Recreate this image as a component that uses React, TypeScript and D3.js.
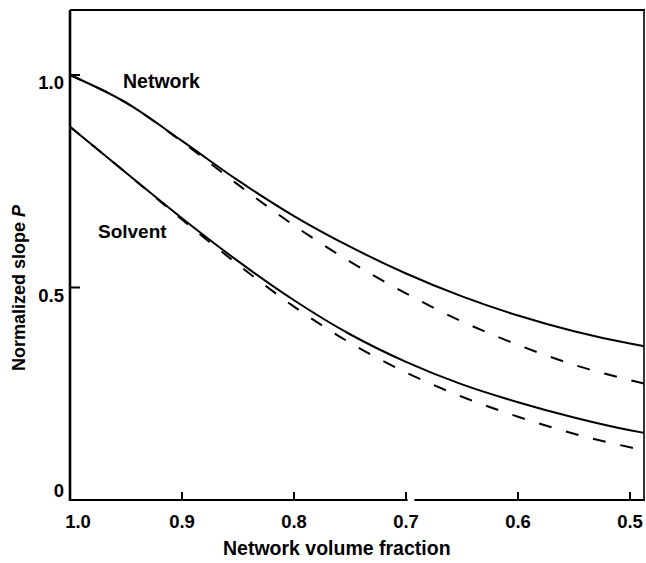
import React from "react";
import * as d3 from "d3";

// network volume fraction (x) sampled along the curves
const fractions = [1.0, 0.95, 0.9, 0.85, 0.8, 0.75, 0.7, 0.65, 0.6, 0.55, 0.5, 0.4875];

const networkSolid = [1.0, 0.935, 0.845, 0.752, 0.668, 0.596, 0.533, 0.479, 0.434, 0.397, 0.368, 0.362];
const networkDashed = [1.0, 0.935, 0.843, 0.742, 0.646, 0.561, 0.486, 0.42, 0.365, 0.318, 0.282, 0.274];
const solventSolid = [0.878, 0.77, 0.663, 0.562, 0.47, 0.39, 0.325, 0.272, 0.23, 0.194, 0.164, 0.158];
const solventDashed = [0.878, 0.77, 0.66, 0.554, 0.455, 0.37, 0.3, 0.243, 0.196, 0.156, 0.124, 0.117];

const xTicks = [1.0, 0.9, 0.8, 0.7, 0.6, 0.5];
const xTickLabels = ["1.0", "0.9", "0.8", "0.7", "0.6", "0.5"];
const yTicks = [0, 0.5, 1.0];
const yTickLabels = ["0", "0.5", "1.0"];

const W = 646;
const H = 563;
const left = 70;
const right = 644;
const top = 10;
const bottom = 500;

const font = "'Liberation Sans', Arial, sans-serif";

export default function App() {
  const x = d3.scaleLinear().domain([1.0, 0.4875]).range([left, right]);
  const y = d3.scaleLinear().domain([0, 1]).range([bottom, 75]);

  const line = (vals: number[]) =>
    d3
      .line<number>()
      .x((_, i) => x(fractions[i]))
      .y((d) => y(d))
      .curve(d3.curveMonotoneX)(vals) as string;

  const curves = [
    { vals: networkDashed, dash: "13 15" },
    { vals: solventDashed, dash: "13 15" },
    { vals: networkSolid, dash: null },
    { vals: solventSolid, dash: null },
  ];

  return (
    <svg
      width={W}
      height={H}
      style={{ position: "absolute", left: 0, top: 0, background: "#fff" }}
      fontFamily={font}
    >
      <rect x={0} y={0} width={W} height={H} fill="#fff" />

      {/* frame */}
      <line x1={left} x2={left} y1={top} y2={bottom + 1} stroke="#000" strokeWidth={2.6} />
      <line x1={left} x2={right + 1} y1={top} y2={top} stroke="#000" strokeWidth={2.2} />
      <line x1={right} x2={right} y1={top} y2={bottom} stroke="#000" strokeWidth={1.6} />
      <line x1={left} x2={x(0.6985)} y1={bottom} y2={bottom} stroke="#000" strokeWidth={2} />
      <line x1={x(0.6925)} x2={right + 1} y1={bottom} y2={bottom} stroke="#000" strokeWidth={2} />

      {/* y ticks */}
      {yTicks.map((t, i) => (
        <g key={"y" + i}>
          {t > 0 && (
            <line x1={left} x2={left + 10} y1={y(t)} y2={y(t)} stroke="#000" strokeWidth={2} />
          )}
          <text
            x={64}
            y={t === 0 ? y(t) - 3 : y(t) + 14}
            textAnchor="end"
            fontSize={18.5}
            fontWeight="bold"
          >
            {yTickLabels[i]}
          </text>
        </g>
      ))}

      {/* x ticks */}
      {xTicks.map((t, i) => (
        <g key={"x" + i}>
          {t < 1 && (
            <line x1={x(t)} x2={x(t)} y1={bottom} y2={bottom - 8} stroke="#000" strokeWidth={2} />
          )}
          <text
            x={t === 1 ? x(t) + 8 : x(t)}
            y={528}
            textAnchor="middle"
            fontSize={18.5}
            fontWeight="bold"
          >
            {xTickLabels[i]}
          </text>
        </g>
      ))}

      {/* curves */}
      {curves.map((c, i) => (
        <path
          key={"c" + i}
          d={line(c.vals)}
          fill="none"
          stroke="#000"
          strokeWidth={2}
          strokeDasharray={c.dash ?? undefined}
        />
      ))}

      {/* curve labels */}
      <text x={123} y={88} fontSize={19.5} fontWeight="bold">
        Network
      </text>
      <text x={98} y={238} fontSize={19} fontWeight="bold">
        Solvent
      </text>

      {/* axis titles */}
      <text x={223} y={555} fontSize={19.5} fontWeight="bold">
        Network volume fraction
      </text>
      <text
        transform="translate(25,288) rotate(-90)"
        textAnchor="middle"
        fontSize={18}
        fontWeight="bold"
      >
        Normalized slope <tspan fontStyle="italic">P</tspan>
      </text>
    </svg>
  );
}
